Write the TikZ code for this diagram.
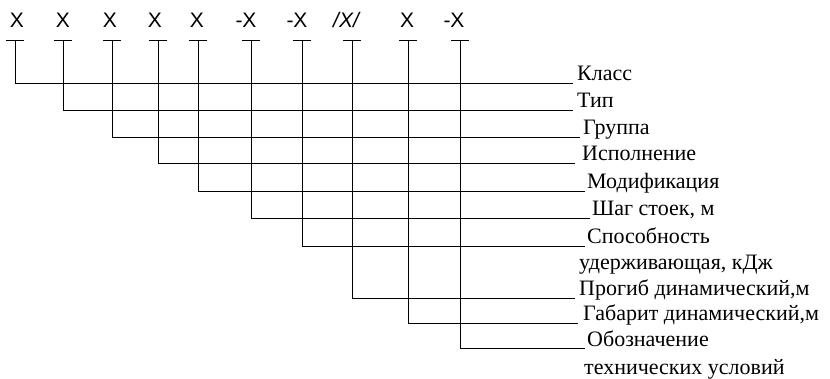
\documentclass[tikz,border=0pt]{standalone}
\usepackage{fontspec}
\setmainfont{Liberation Serif}
\setsansfont{Liberation Sans}
\usetikzlibrary{positioning}
\tikzset{
line width=1.4pt, % lines of the scheme
digit/.style={font=\sffamily\fontsize{21}{25}\selectfont, inner sep=0pt}, % the X positions on top
field/.style={font=\fontsize{22}{26}\selectfont, inner sep=0pt, anchor=base west}, % the names on the right
}

\begin{document}
\begin{tikzpicture}[x=1pt, y=-1pt]
      \useasboundingbox (0,0) rectangle (830,379);

      % positions of the designation
      \node[digit] (x1) at (17,20) {X};
      \node[digit] (x2) at (63,20) {X};
      \node[digit] (x3) at (110,20) {X};
      \node[digit] (x4) at (155,20) {X};
      \node[digit] (x5) at (197,20) {X};
      \node[digit] (x6) at (246,20) {-X};
      \node[digit] (x7) at (297,20) {-X};
      \node[digit] (x8) at (346,20) {\itshape /X/};
      \node[digit] (x9) at (407,20) {X};
      \node[digit] (x10) at (454,20) {-X};

      % tops of the leaders
      \coordinate (t1) at (15,40);
      \coordinate (t2) at (63,40);
      \coordinate (t3) at (112,40);
      \coordinate (t4) at (158,40);
      \coordinate (t5) at (198,40);
      \coordinate (t6) at (251,40);
      \coordinate (t7) at (302,40);
      \coordinate (t8) at (352,40);
      \coordinate (t9) at (408,40);
      \coordinate (t10) at (460,40);

      % ends of the leaders
      \coordinate (e1) at (573,83);
      \coordinate (e2) at (573,110);
      \coordinate (e3) at (580,137);
      \coordinate (e4) at (575,163);
      \coordinate (e5) at (585,191);
      \coordinate (e6) at (590,218);
      \coordinate (e7) at (585,246);
      \coordinate (e8) at (575,298);
      \coordinate (e9) at (578,323);
      \coordinate (e10) at (585,348);

      \node[field] (class) at ([xshift=4pt, yshift=2pt]e1) {Класс};
      \node[field] (type) at ([xshift=4pt, yshift=2pt]e2) {Тип};
      \node[field] (group) at ([xshift=3pt, yshift=2pt]e3) {Группа};
      \node[field] (design) at ([xshift=7pt, yshift=2pt]e4) {Исполнение};
      \node[field] (modif) at ([xshift=2pt, yshift=2pt]e5) {Модификация};
      \node[field] (pitch) at ([xshift=2pt, yshift=2pt]e6) {Шаг стоек, м};
      \node[field] (capac) at ([xshift=2pt, yshift=2pt]e7) {Способность};
      \node[field] (capac2) at (579,270) {удерживающая, кДж};
      \node[field] (defl) at ([xshift=4pt, yshift=2pt]e8) {Прогиб динамический,м};
      \node[field] (width) at ([xshift=5pt, yshift=2pt]e9) {Габарит динамический,м};
      \node[field] (spec) at ([xshift=2pt, yshift=2pt]e10) {Обозначение};
      \node[field] (spec2) at (584,374) {технических условий};

      \foreach \i in {1,...,10}{
        \draw ([xshift=-9pt]t\i) -- ([xshift=9pt]t\i);
        \draw (t\i) |- (e\i);
      }
    \end{tikzpicture}
\end{document}
